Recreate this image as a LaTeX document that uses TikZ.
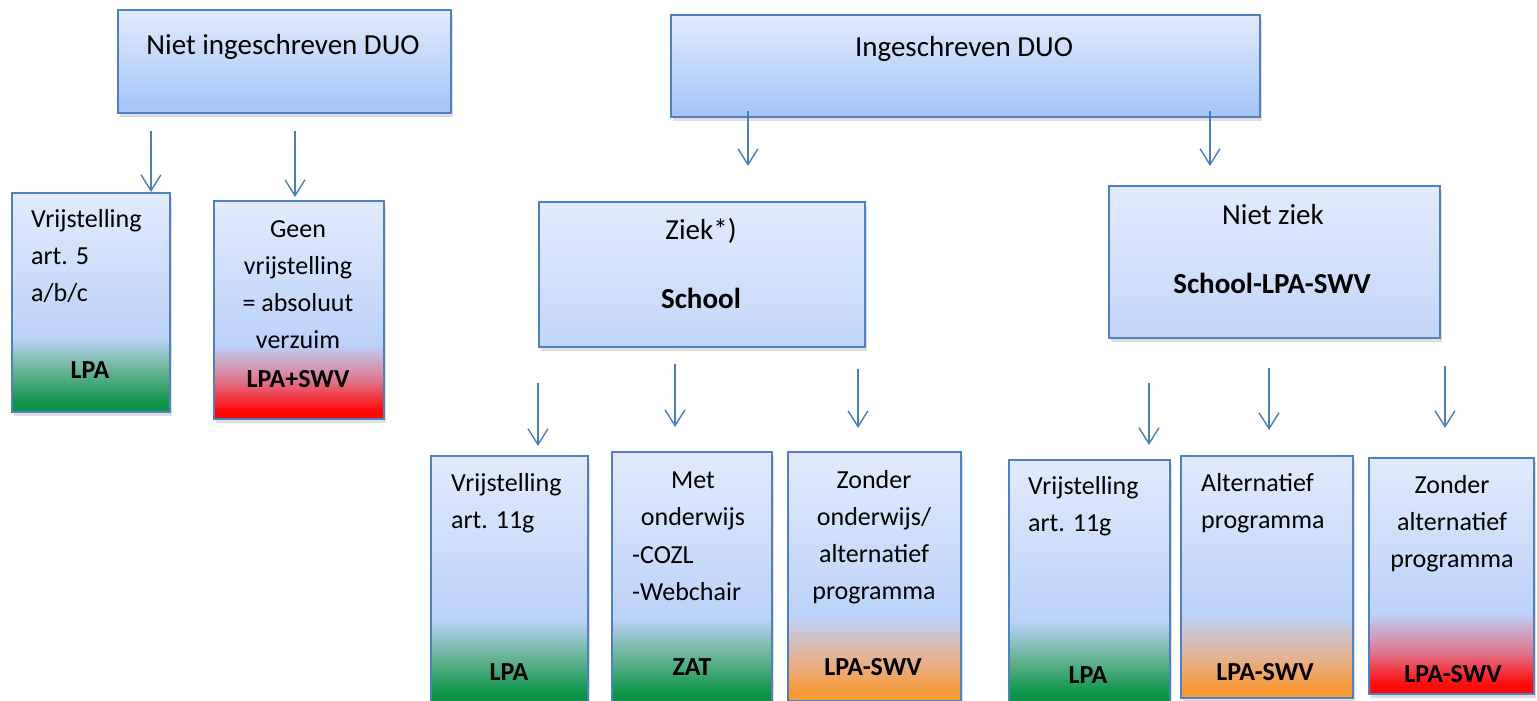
\documentclass[tikz,border=0pt]{standalone}
\usepackage{fontspec}
\setmainfont{Carlito}
\usetikzlibrary{arrows.meta,shadows}

\definecolor{rand}{HTML}{4F81BD}
\definecolor{pijlkleur}{HTML}{4A7EBB}
\definecolor{boven}{HTML}{E2EBFD}
\definecolor{onderdonker}{HTML}{A4C3F9}
\definecolor{onderlicht}{HTML}{C3D6F9}
\definecolor{midblauw}{HTML}{BCD2F9}
\definecolor{groen}{HTML}{0B9447}
\definecolor{groenmid}{HTML}{62B290}
\definecolor{oranje}{HTML}{F89A38}
\definecolor{oranjemid}{HTML}{E2B49A}
\definecolor{rood}{HTML}{FF0A0A}
\definecolor{roodmid}{HTML}{DE7890}

% kleurverlopen van de vakken
\pgfdeclareverticalshading{blauwdonker}{100bp}{color(0bp)=(onderdonker); color(25bp)=(onderdonker); color(75bp)=(boven); color(100bp)=(boven)}
\pgfdeclareverticalshading{blauwlicht}{100bp}{color(0bp)=(onderlicht); color(25bp)=(onderlicht); color(75bp)=(boven); color(100bp)=(boven)}
\pgfdeclareverticalshading{naargroen}{100bp}{color(0bp)=(groen); color(27bp)=(groen); color(34bp)=(groenmid); color(42bp)=(midblauw); color(75bp)=(boven); color(100bp)=(boven)}
\pgfdeclareverticalshading{naaroranje}{100bp}{color(0bp)=(oranje); color(27bp)=(oranje); color(34bp)=(oranjemid); color(42bp)=(midblauw); color(75bp)=(boven); color(100bp)=(boven)}
\pgfdeclareverticalshading{naarrood}{100bp}{color(0bp)=(rood); color(27bp)=(rood); color(34bp)=(roodmid); color(42bp)=(midblauw); color(75bp)=(boven); color(100bp)=(boven)}

\tikzset{
  vak/.style={draw=rand, line width=1.6pt, anchor=north west, inner sep=0pt,
    drop shadow={shadow xshift=2pt, shadow yshift=-4pt, opacity=0.25}},
  groot/.style={font=\fontsize{29}{35}\selectfont, inner sep=0pt},
  klein/.style={font=\fontsize{26}{37}\selectfont, inner sep=0pt},
  vet/.style={font=\fontsize{26}{37}\selectfont\bfseries, inner sep=0pt},
  pijl/.style={draw=pijlkleur, line width=1.4pt, -{Straight Barb[length=16pt,width=20pt]}}
}

\begin{document}
\begin{tikzpicture}[x=1pt,y=-1pt]
\useasboundingbox (0,0) rectangle (1537,701);

\node[vak, shading=blauwdonker, minimum width=333, minimum height=103] (ni) at (117,9) {};
\node[vak, shading=blauwdonker, minimum width=589, minimum height=102] (ing) at (670,14) {};
\node[vak, shading=naargroen, minimum width=158, minimum height=219] (v5) at (11,192) {};
\node[vak, shading=naarrood, minimum width=170, minimum height=218] (gv) at (213,200) {};
\node[vak, shading=blauwlicht, minimum width=326, minimum height=145] (ziek) at (538,201) {};
\node[vak, shading=blauwlicht, minimum width=331, minimum height=152] (nz) at (1108,185) {};
\node[vak, shading=naargroen, minimum width=157, minimum height=248] (v11a) at (430,455) {};
\node[vak, shading=naargroen, minimum width=160, minimum height=252] (met) at (611,451) {};
\node[vak, shading=naaroranje, minimum width=173, minimum height=249] (zo) at (787,451) {};
\node[vak, shading=naargroen, minimum width=161, minimum height=244] (v11b) at (1008,459) {};
\node[vak, shading=naaroranje, minimum width=172, minimum height=242] (alt) at (1180,455) {};
\node[vak, shading=naarrood, minimum width=165, minimum height=236] (za) at (1368,457) {};

% bij meerdere regels ligt base op de laatste regel
\node[groot, anchor=base] (nit) at (283,55) {Niet ingeschreven DUO};
\node[groot, anchor=base] (ingt) at (964,57) {Ingeschreven DUO};
\node[klein, anchor=base west, align=left] (v5t) at (31,301) {Vrijstelling\\art. 5\\a/b/c};
\node[vet, anchor=base] (v5o) at (90,378) {LPA};
\node[klein, anchor=base, align=center] (gvt) at (298,348) {Geen\\vrijstelling\\= absoluut\\verzuim};
\node[vet, anchor=base] (gvo) at (298,387) {LPA+SWV};
\node[groot, anchor=base] (ziekt) at (701,239) {Ziek*)};
\node[groot, anchor=base, font=\fontsize{29}{35}\selectfont\bfseries] (ziekb) at (701,308) {School};
\node[groot, anchor=base] (nzt) at (1273,224) {Niet ziek};
\node[groot, anchor=base, font=\fontsize{29}{35}\selectfont\bfseries] (nzb) at (1272,293) {School-LPA-SWV};
\node[klein, anchor=base west, align=left] (v11at) at (451,528) {Vrijstelling\\art. 11g};
\node[vet, anchor=base] (v11ao) at (509,680) {LPA};
\node[klein, anchor=base, align=center] (mett) at (693,525) {Met\\onderwijs};
\node[klein, anchor=base west, align=left] (metl) at (632,600) {-COZL\\-Webchair};
\node[vet, anchor=base] (meto) at (692,675) {ZAT};
\node[klein, anchor=base, align=center] (zot) at (874,599) {Zonder\\onderwijs/\\alternatief\\programma};
\node[vet, anchor=base] (zoo) at (873,675) {LPA-SWV};
\node[klein, anchor=base west, align=left] (v11bt) at (1028,531) {Vrijstelling\\art. 11g};
\node[vet, anchor=base] (v11bo) at (1088,683) {LPA};
\node[klein, anchor=base west, align=left] (altt) at (1201,528) {Alternatief\\programma};
\node[vet, anchor=base] (alto) at (1265,680) {LPA-SWV};
\node[klein, anchor=base, align=center] (zat) at (1452,567) {Zonder\\alternatief\\programma};
\node[vet, anchor=base] (zao) at (1453,682) {LPA-SWV};

% pijlen staan los van de vakken
\coordinate (p1a) at (151,131); \coordinate (p1b) at (151,192);
\coordinate (p2a) at (295,131); \coordinate (p2b) at (295,197);
\coordinate (p3a) at (748,111); \coordinate (p3b) at (748,166);
\coordinate (p4a) at (1210,111); \coordinate (p4b) at (1210,166);
\coordinate (p5a) at (538,383); \coordinate (p5b) at (538,446);
\coordinate (p6a) at (675,364); \coordinate (p6b) at (675,427);
\coordinate (p7a) at (858,369); \coordinate (p7b) at (858,428);
\coordinate (p8a) at (1149,383); \coordinate (p8b) at (1149,445);
\coordinate (p9a) at (1269,368); \coordinate (p9b) at (1269,430);
\coordinate (p10a) at (1445,366); \coordinate (p10b) at (1445,428);

\draw[pijl] (p1a)--(p1b);
\draw[pijl] (p2a)--(p2b);
\draw[pijl] (p3a)--(p3b);
\draw[pijl] (p4a)--(p4b);
\draw[pijl] (p5a)--(p5b);
\draw[pijl] (p6a)--(p6b);
\draw[pijl] (p7a)--(p7b);
\draw[pijl] (p8a)--(p8b);
\draw[pijl] (p9a)--(p9b);
\draw[pijl] (p10a)--(p10b);
\end{tikzpicture}
\end{document}
